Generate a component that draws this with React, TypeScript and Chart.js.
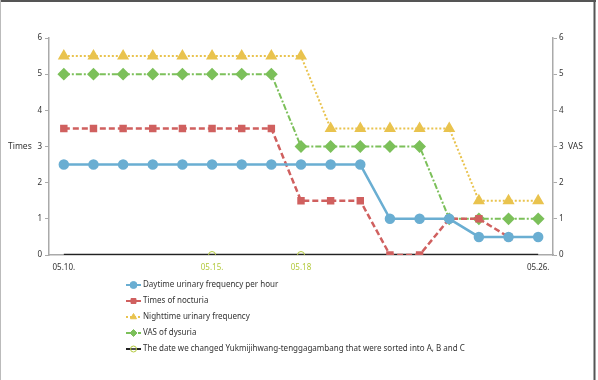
import React, { useEffect, useRef } from "react";
import { Chart, registerables } from "chart.js";
import { drawPoint } from "chart.js/helpers";

Chart.register(...registerables);

const dates = ["05.10", "05.11", "05.12", "05.13", "05.14", "05.15", "05.16", "05.17", "05.18", "05.19", "05.20", "05.21", "05.22", "05.23", "05.24", "05.25", "05.26"];
const tickLabels: Record<string, string> = { "05.10": "05.10.", "05.15": "05.15.", "05.18": "05.18", "05.26": "05.26." };
const changeDates = ["05.15", "05.18"];

const daytime = [2.5, 2.5, 2.5, 2.5, 2.5, 2.5, 2.5, 2.5, 2.5, 2.5, 2.5, 1, 1, 1, 0.5, 0.5, 0.5];
const nocturia = [3.5, 3.5, 3.5, 3.5, 3.5, 3.5, 3.5, 3.5, 1.5, 1.5, 1.5, 0, 0, 1, 1, 0.5, null];
const nighttime = [5.5, 5.5, 5.5, 5.5, 5.5, 5.5, 5.5, 5.5, 5.5, 3.5, 3.5, 3.5, 3.5, 3.5, 1.5, 1.5, 1.5];
const vas = [5, 5, 5, 5, 5, 5, 5, 5, 3, 3, 3, 3, 3, 1, 1, 1, 1];
const baseline = [0, 0, 0, 0, 0, 0, 0, 0, 0, 0, 0, 0, 0, 0, 0, 0, 0];

const FONT = "'Noto Sans', sans-serif";
const CHANGE_COLOR = "#b3c93c";

const legendPlugin = {
  id: "customLegend",
  afterDraw(chart: any) {
    const ctx = chart.ctx;
    const ys = [285, 301, 317, 333, 349];
    ctx.save();
    chart.data.datasets.forEach((ds: any, i: number) => {
      const y = ys[i];
      const x0 = 126, x1 = 141;
      ctx.save();
      ctx.strokeStyle = ds.borderColor;
      ctx.lineWidth = 2;
      ctx.setLineDash(ds.borderDash || []);
      ctx.beginPath();
      ctx.moveTo(x0, y);
      ctx.lineTo(x1, y);
      ctx.stroke();
      ctx.setLineDash([]);
      const ps = ds.legendPointStyle || ds.pointStyle;
      ctx.fillStyle = ds.legendPointFill || ds.pointBackgroundColor;
      ctx.strokeStyle = ds.legendPointBorder || ds.pointBorderColor;
      ctx.lineWidth = 1;
      drawPoint(ctx, { pointStyle: ps, radius: ds.legendRadius || 3.5, rotation: 0, borderWidth: 1 }, (x0 + x1) / 2, y);
      ctx.restore();
      ctx.fillStyle = "#333";
      ctx.font = `8px ${FONT}`;
      ctx.textBaseline = "middle";
      ctx.textAlign = "left";
      ctx.fillText(ds.label, 143, y);
    });
    // axis titles
    const yS = chart.scales.y;
    const yc = yS.getPixelForValue(3);
    ctx.font = `8.5px ${FONT}`;
    ctx.fillStyle = "#333";
    ctx.textBaseline = "middle";
    ctx.textAlign = "left";
    ctx.fillText("Times", 8, yc);
    ctx.fillText("VAS", 568, yc);
    // frame
    ctx.strokeStyle = "#555";
    ctx.lineWidth = 2;
    ctx.beginPath();
    ctx.moveTo(0, 1);
    ctx.lineTo(596, 1);
    ctx.stroke();
    ctx.beginPath();
    ctx.moveTo(594.5, 0);
    ctx.lineTo(594.5, 380);
    ctx.stroke();
    ctx.strokeStyle = "#bbb";
    ctx.lineWidth = 1;
    ctx.beginPath();
    ctx.moveTo(0.5, 0);
    ctx.lineTo(0.5, 380);
    ctx.stroke();
    ctx.restore();
  },
};

export default function App() {
  const ref = useRef<HTMLCanvasElement>(null);
  useEffect(() => {
    if (!ref.current) return;
    const chart = new Chart(ref.current, {
      type: "line",
      data: {
        labels: dates,
        datasets: [
          {
            label: "Daytime urinary frequency per hour",
            data: daytime,
            borderColor: "#6aaed2",
            backgroundColor: "#6aaed2",
            pointBackgroundColor: "#6aaed2",
            pointBorderColor: "#6aaed2",
            pointStyle: "circle",
            pointRadius: 4,
            borderWidth: 2.5,
            yAxisID: "y",
            order: 1,
          },
          {
            label: "Times of nocturia",
            data: nocturia,
            borderColor: "#d0605f",
            backgroundColor: "#d0605f",
            pointBackgroundColor: "#d0605f",
            pointBorderColor: "#d0605f",
            pointStyle: "rect",
            pointRadius: 3.5,
            borderWidth: 2.5,
            borderDash: [6, 3],
            yAxisID: "y",
            order: 1,
          },
          {
            label: "Nighttime urinary frequency",
            data: nighttime,
            borderColor: "#e9c34e",
            backgroundColor: "#e9c34e",
            pointBackgroundColor: "#e9c34e",
            pointBorderColor: "#e9c34e",
            pointStyle: "triangle",
            pointRadius: 5,
            borderWidth: 2,
            borderDash: [2, 2],
            yAxisID: "y",
            order: 1,
          },
          {
            label: "VAS of dysuria",
            data: vas,
            borderColor: "#7cc05a",
            backgroundColor: "#7cc05a",
            pointBackgroundColor: "#7cc05a",
            pointBorderColor: "#7cc05a",
            pointStyle: "rectRot",
            pointRadius: 5,
            borderWidth: 2,
            borderDash: [6, 2, 2, 2],
            yAxisID: "y1",
            order: 1,
          },
          {
            label: "The date we changed Yukmijihwang-tenggagambang that were sorted into A, B and C",
            data: baseline,
            borderColor: "#222",
            backgroundColor: "#fff",
            pointBackgroundColor: "rgba(255,255,255,0)",
            pointBorderColor: CHANGE_COLOR,
            legendPointFill: "rgba(255,255,255,0.2)",
            legendPointBorder: CHANGE_COLOR,
            legendRadius: 3,
            pointStyle: "circle",
            pointRadius: dates.map((d) => (changeDates.includes(d) ? 3.5 : 0)),
            pointBorderWidth: 1,
            borderWidth: 2.5,
            yAxisID: "y",
            order: 5,
          } as any,
        ],
      },
      options: {
        animation: false,
        responsive: false,
        layout: { padding: { top: 38, bottom: 100, left: 0, right: 0 } },
        plugins: { legend: { display: false }, tooltip: { enabled: false } },
        scales: {
          x: {
            type: "category",
            offset: true,
            grid: { display: false },
            border: { display: true, color: "#aaa", width: 1.5 },
            afterFit: (s: any) => { s.height = 25; },
            ticks: {
              autoSkip: false,
              maxRotation: 0,
              padding: 0,
              font: { family: FONT, size: 8 },
              color: (c: any) => (changeDates.includes(dates[c.index]) ? CHANGE_COLOR : "#333"),
              callback: (_v: any, i: number) => tickLabels[dates[i]] || "",
            },
          },
          y: {
            position: "left",
            min: 0,
            max: 6,
            afterFit: (s: any) => { s.width = 49; },
            grid: { drawOnChartArea: false, drawTicks: true, tickLength: 4, color: "#aaa" },
            border: { display: true, color: "#aaa", width: 1.5 },
            ticks: { stepSize: 1, padding: 3, font: { family: FONT, size: 8 }, color: "#333" },
          },
          y1: {
            position: "right",
            min: 0,
            max: 6,
            afterFit: (s: any) => { s.width = 45; },
            grid: { drawOnChartArea: false, drawTicks: true, tickLength: 4, color: "#aaa" },
            border: { display: true, color: "#aaa", width: 1.5 },
            ticks: { stepSize: 1, padding: 2, font: { family: FONT, size: 8 }, color: "#333" },
          },
        },
      } as any,
      plugins: [legendPlugin],
    });
    return () => chart.destroy();
  }, []);
  return (
    <div style={{ position: "fixed", left: 0, top: 0, width: 598, height: 380, background: "#fff" }}>
      <canvas ref={ref} width={598} height={380} />
    </div>
  );
}
